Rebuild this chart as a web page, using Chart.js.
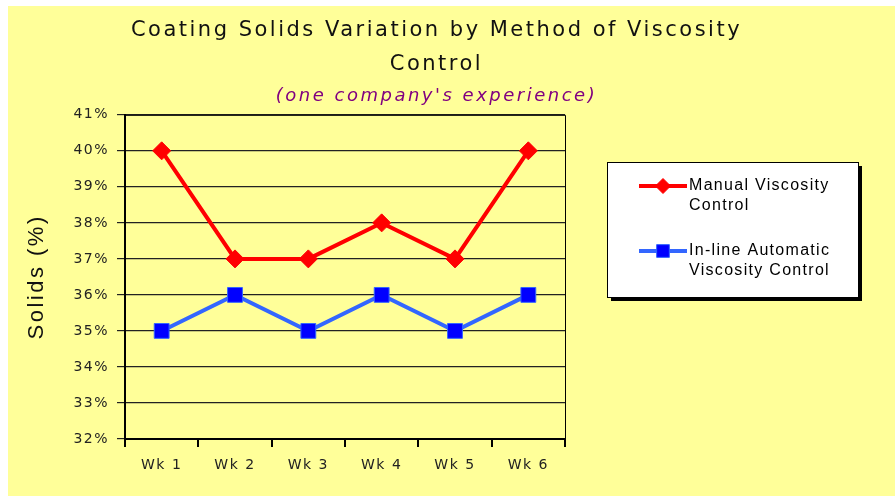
<!DOCTYPE html>
<html>
<head>
<meta charset="utf-8">
<script src="https://cdn.jsdelivr.net/npm/chart.js@4"></script>
<style>
  html, body { margin: 0; padding: 0; background: #fff; }
  #wrap { position: absolute; left: 8px; top: 6px; width: 887px; height: 490px; background: #FFFF99; }
</style>
</head>
<body>
<div id="wrap"><canvas id="chart-1" width="887" height="490"></canvas></div>
<script>
// data
var weeks = ["Wk 1", "Wk 2", "Wk 3", "Wk 4", "Wk 5", "Wk 6"];
var manualValues = [40, 37, 37, 38, 37, 40];
var inlineValues = [35, 36, 35, 36, 35, 36];
var manualName = ["Manual Viscosity", "Control"];
var inlineName = ["In-line Automatic", "Viscosity Control"];
var yMin = 32, yMax = 41;

// the original uses a wide font, so text gets some letter spacing
var spacing = {
    id: 'spacing',
    beforeDraw: function (chart) { chart.ctx.letterSpacing = '2.5px'; },
    beforeDatasetsDraw: function (chart) { chart.ctx.letterSpacing = '1.5px'; }
};

// top + right edges of the plot
var framePlugin = {
    id: 'frame',
    afterDatasetsDraw: function (chart) {
        var a = chart.chartArea, ctx = chart.ctx;
        ctx.save();
        ctx.strokeStyle = '#000';
        ctx.lineWidth = 1;
        ctx.beginPath();
        ctx.moveTo(a.left, a.top + 0.5);
        ctx.lineTo(a.right + 0.5, a.top + 0.5);
        ctx.lineTo(a.right + 0.5, a.bottom);
        ctx.stroke();
        ctx.restore();
    }
};

// boxed legend with shadow
var boxLegend = {
    id: 'boxLegend',
    afterDraw: function (chart) {
        var ctx = chart.ctx;
        var x = 599, y = 156, w = 251, h = 135;
        ctx.save();
        ctx.letterSpacing = '1.3px';
        ctx.fillStyle = '#000';
        ctx.fillRect(x + 4, y + 4, w, h);
        ctx.fillStyle = '#fff';
        ctx.fillRect(x, y, w, h);
        ctx.strokeStyle = '#000';
        ctx.lineWidth = 1;
        ctx.strokeRect(x + 0.5, y + 0.5, w, h);
        ctx.font = '16px "Liberation Sans", Arial, sans-serif';
        ctx.textBaseline = 'middle';
        var rows = [24, 89];
        chart.data.datasets.forEach(function (ds, i) {
            var ly = y + rows[i];
            ctx.strokeStyle = ds.borderColor;
            ctx.lineWidth = 4;
            ctx.beginPath();
            ctx.moveTo(x + 32, ly);
            ctx.lineTo(x + 80, ly);
            ctx.stroke();
            ctx.fillStyle = ds.pointBackgroundColor;
            ctx.strokeStyle = ds.pointBorderColor;
            ctx.lineWidth = ds.pointBorderWidth;
            Chart.helpers.drawPoint(ctx, {
                pointStyle: ds.pointStyle,
                radius: ds.pointRadius - 1.5,
                borderWidth: ds.pointBorderWidth
            }, x + 56, ly);
            ctx.fillStyle = '#000';
            ds.legendLines.forEach(function (t, j) {
                ctx.fillText(t, x + 82, ly + j * 20);
            });
        });
        ctx.restore();
    }
};

var ctx_1 = document.getElementById('chart-1');
var myChart = new Chart(ctx_1, {
    type: 'line',
    data: {
        labels: weeks,
        datasets: [{
            label: manualName.join(' '),
            legendLines: manualName,
            data: manualValues,
            borderColor: "#FF0000",
            backgroundColor: "#FF0000",
            borderWidth: 4,
            pointStyle: 'rectRot',
            pointRadius: 9,
            pointHoverRadius: 9,
            pointBackgroundColor: "#FF0000",
            pointBorderColor: "#FF0000",
            pointBorderWidth: 1,
            tension: 0
        }, {
            label: inlineName.join(' '),
            legendLines: inlineName,
            data: inlineValues,
            borderColor: "#3366FF",
            backgroundColor: "#0000FF",
            borderWidth: 4,
            pointStyle: 'rect',
            pointRadius: 10.5,
            pointHoverRadius: 10.5,
            pointBackgroundColor: "#0000FF",
            pointBorderColor: "#3366FF",
            pointBorderWidth: 1,
            tension: 0
        }]
    },
    options: {
        responsive: false,
        animation: false,
        layout: {
            padding: { top: 0, right: 30, bottom: 0, left: 0 }
        },
        plugins: {
            legend: { display: false },
            tooltip: { enabled: false },
            title: {
                display: true,
                text: ["Coating Solids Variation by Method of Viscosity", "Control"],
                color: '#111',
                font: { family: '"DejaVu Sans", Verdana, sans-serif', size: 21, weight: 'normal', lineHeight: 1.6 },
                padding: { top: 8, bottom: 0 }
            },
            subtitle: {
                display: true,
                text: "(one company's experience)",
                color: '#800080',
                font: { family: '"DejaVu Sans", Verdana, sans-serif', size: 18, style: 'italic', lineHeight: 1.2 },
                padding: { top: 4, bottom: 8 }
            }
        },
        scales: {
            x: {
                offset: true,
                grid: {
                    offset: true,
                    drawOnChartArea: false,
                    drawTicks: true,
                    tickLength: 8,
                    color: '#000',
                    lineWidth: 2
                },
                border: { color: '#000', width: 2 },
                ticks: {
                    z: 1,
                    color: '#222',
                    padding: 10,
                    font: { family: '"DejaVu Sans", Verdana, sans-serif', size: 14 }
                },
                afterFit: function (scale) { scale.height = 57; }
            },
            y: {
                min: yMin,
                max: yMax,
                grid: {
                    color: '#222',
                    lineWidth: 1.2,
                    tickLength: 8
                },
                border: { color: '#000', width: 2 },
                ticks: {
                    z: 1,
                    stepSize: 1,
                    color: '#222',
                    padding: 8,
                    font: { family: '"DejaVu Sans", Verdana, sans-serif', size: 14 },
                    callback: function (v) { return v + '%'; }
                },
                title: {
                    display: true,
                    text: 'Solids (%)',
                    color: '#111',
                    padding: { top: 16, bottom: 0 },
                    font: { family: '"Liberation Sans", Arial, sans-serif', size: 22 }
                },
                afterFit: function (scale) { scale.width = 117; }
            },
            // empty axis that keeps room for the legend box
            side: {
                position: 'right',
                grid: { display: false },
                border: { display: false },
                ticks: { display: false },
                afterFit: function (scale) { scale.width = 300; }
            }
        }
    },
    plugins: [spacing, framePlugin, boxLegend]
});
</script>
</body>
</html>
